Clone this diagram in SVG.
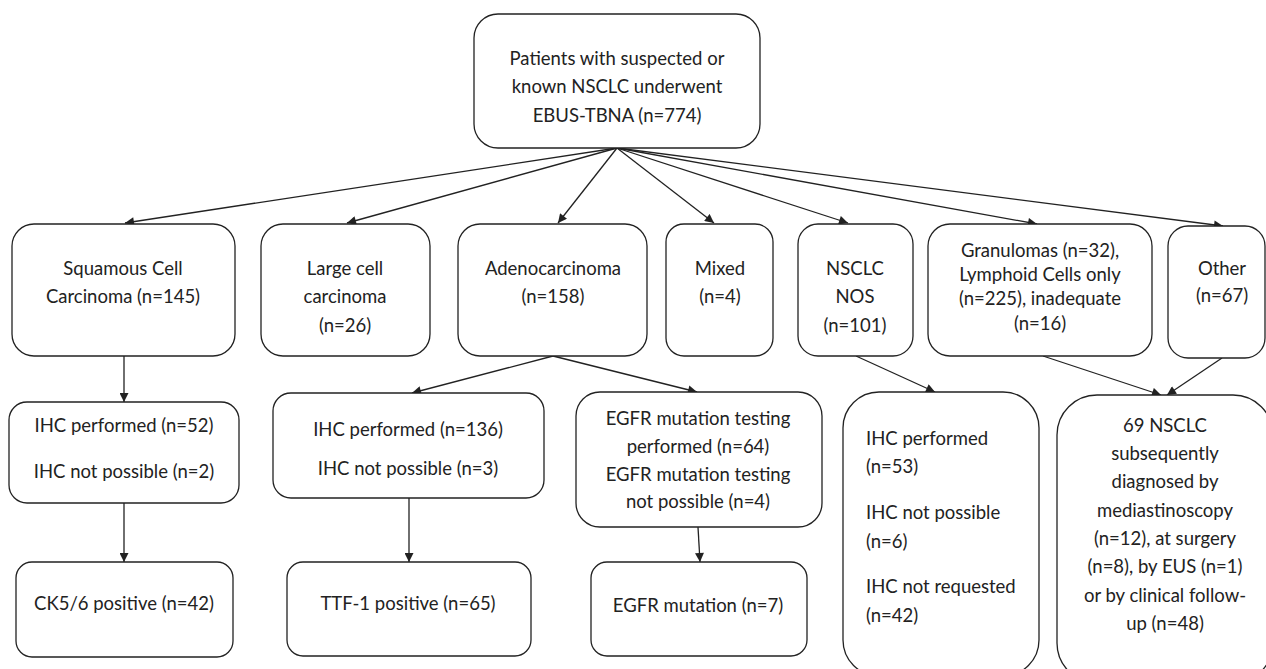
<svg xmlns="http://www.w3.org/2000/svg" width="1266" height="669" viewBox="0 0 1266 669">
<style>
.box{fill:#fff;stroke:#222;stroke-width:1.3}
.t{font-family:Lato,"Liberation Sans",sans-serif;font-size:18.5px;fill:#222;text-anchor:middle}
.l{text-anchor:start}
.c{stroke:#222;stroke-width:1.3;fill:none;marker-end:url(#ah)}
</style>
<defs>
<marker id="ah" viewBox="0 0 10 10" refX="10" refY="5" markerWidth="11" markerHeight="9" markerUnits="userSpaceOnUse" orient="auto">
<path d="M0,0 L10,5 L0,10 z" fill="#222"/>
</marker>
</defs>
<rect width="1266" height="669" fill="#fff"/>
<g id="connectors">
<line class="c" x1="617" y1="148" x2="125" y2="223"/>
<line class="c" x1="617" y1="148" x2="347" y2="223"/>
<line class="c" x1="617" y1="148" x2="558" y2="223"/>
<line class="c" x1="617" y1="148" x2="714" y2="223"/>
<line class="c" x1="617" y1="148" x2="848" y2="223"/>
<line class="c" x1="617" y1="148" x2="1037" y2="224"/>
<line class="c" x1="617" y1="148" x2="1223" y2="226"/>
<line class="c" x1="124" y1="356" x2="124" y2="402"/>
<line class="c" x1="124" y1="503" x2="124" y2="562"/>
<line class="c" x1="553" y1="356" x2="412" y2="393"/>
<line class="c" x1="553" y1="356" x2="697" y2="392"/>
<line class="c" x1="409" y1="498" x2="409" y2="562"/>
<line class="c" x1="698" y1="527" x2="700" y2="562"/>
<line class="c" x1="856" y1="356" x2="935" y2="392"/>
<line class="c" x1="1043" y1="356" x2="1161" y2="395"/>
<line class="c" x1="1222" y1="358" x2="1167" y2="395"/>
</g>
<g id="root">
<rect class="box" x="474" y="14" width="286" height="134" rx="24"/>
<text class="t" x="617" y="65">Patients with suspected or</text>
<text class="t" x="617" y="93">known NSCLC underwent</text>
<text class="t" x="617" y="122">EBUS-TBNA (n=774)</text>
</g>
<g id="squamous">
<rect class="box" x="12" y="224" width="223" height="132" rx="22"/>
<text class="t" x="123" y="275">Squamous Cell</text>
<text class="t" x="123" y="303">Carcinoma (n=145)</text>
</g>
<g id="largecell">
<rect class="box" x="261" y="224" width="169" height="132" rx="22"/>
<text class="t" x="345" y="275">Large cell</text>
<text class="t" x="345" y="303">carcinoma</text>
<text class="t" x="345" y="332">(n=26)</text>
</g>
<g id="adeno">
<rect class="box" x="458" y="224" width="189" height="132" rx="22"/>
<text class="t" x="553" y="275">Adenocarcinoma</text>
<text class="t" x="553" y="303">(n=158)</text>
</g>
<g id="mixed">
<rect class="box" x="666" y="224" width="107" height="132" rx="18"/>
<text class="t" x="720" y="275">Mixed</text>
<text class="t" x="720" y="303">(n=4)</text>
</g>
<g id="nos">
<rect class="box" x="798" y="224" width="115" height="132" rx="20"/>
<text class="t" x="855" y="275">NSCLC</text>
<text class="t" x="855" y="303">NOS</text>
<text class="t" x="855" y="332">(n=101)</text>
</g>
<g id="granulomas">
<rect class="box" x="928" y="224" width="224" height="132" rx="22"/>
<text class="t" x="1040" y="257">Granulomas (n=32),</text>
<text class="t" x="1040" y="281">Lymphoid Cells only</text>
<text class="t" x="1040" y="305">(n=225), inadequate</text>
<text class="t" x="1040" y="330">(n=16)</text>
</g>
<g id="other">
<rect class="box" x="1168" y="226" width="97" height="132" rx="20"/>
<text class="t" x="1222" y="275">Other</text>
<text class="t" x="1222" y="302">(n=67)</text>
</g>
<g id="ihc52">
<rect class="box" x="9" y="402" width="230" height="101" rx="18"/>
<text class="t" x="124" y="432">IHC performed (n=52)</text>
<text class="t" x="124" y="478">IHC not possible (n=2)</text>
</g>
<g id="ck56">
<rect class="box" x="16" y="562" width="217" height="95" rx="16"/>
<text class="t" x="124" y="610">CK5/6 positive (n=42)</text>
</g>
<g id="ihc136">
<rect class="box" x="273" y="393" width="271" height="105" rx="18"/>
<text class="t" x="408" y="436">IHC performed (n=136)</text>
<text class="t" x="408" y="475">IHC not possible (n=3)</text>
</g>
<g id="ttf1">
<rect class="box" x="287" y="562" width="244" height="94" rx="16"/>
<text class="t" x="408" y="610">TTF-1 positive (n=65)</text>
</g>
<g id="egfrtest">
<rect class="box" x="576" y="392" width="246" height="135" rx="24"/>
<text class="t" x="698" y="425">EGFR mutation testing</text>
<text class="t" x="698" y="453">performed (n=64)</text>
<text class="t" x="698" y="481">EGFR mutation testing</text>
<text class="t" x="698" y="508">not possible (n=4)</text>
</g>
<g id="egfrmut">
<rect class="box" x="591" y="562" width="216" height="94" rx="16"/>
<text class="t" x="698" y="612">EGFR mutation (n=7)</text>
</g>
<g id="nosihc">
<rect class="box" x="843" y="392" width="196" height="284" rx="36"/>
<text class="t l" x="866" y="445">IHC performed</text>
<text class="t l" x="866" y="473">(n=53)</text>
<text class="t l" x="866" y="519">IHC not possible</text>
<text class="t l" x="866" y="548">(n=6)</text>
<text class="t l" x="866" y="593">IHC not requested</text>
<text class="t l" x="866" y="622">(n=42)</text>
</g>
<g id="later">
<rect class="box" x="1057" y="395" width="216" height="288" rx="40"/>
<text class="t" x="1165" y="432">69 NSCLC</text>
<text class="t" x="1165" y="460">subsequently</text>
<text class="t" x="1165" y="488">diagnosed by</text>
<text class="t" x="1165" y="517">mediastinoscopy</text>
<text class="t" x="1165" y="545">(n=12), at surgery</text>
<text class="t" x="1165" y="573">(n=8), by EUS (n=1)</text>
<text class="t" x="1165" y="602">or by clinical follow-</text>
<text class="t" x="1165" y="630">up (n=48)</text>
</g>
</svg>
